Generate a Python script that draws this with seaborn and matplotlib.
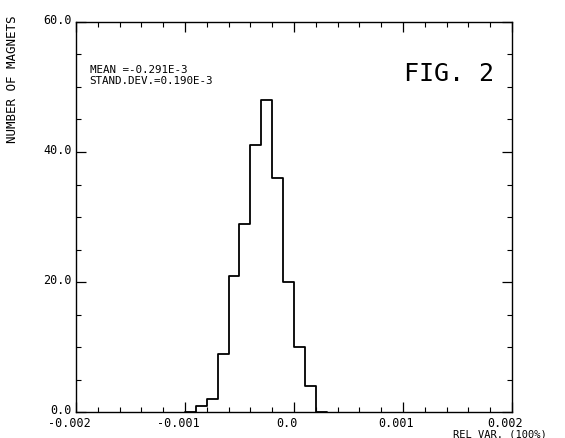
import numpy as np
import pandas as pd
import matplotlib
matplotlib.use("Agg")
import matplotlib.pyplot as plt
import matplotlib.transforms as mtransforms
import seaborn as sns

# Data (empty end bins close the outline down to zero)
bin_edges = [-0.0010, -0.0009, -0.0008, -0.0007, -0.0006, -0.0005, -0.0004, -0.0003,
             -0.0002, -0.0001, 0.0, 0.0001, 0.0002, 0.0003]
counts = [0, 1, 2, 9, 21, 29, 41, 48, 36, 20, 10, 4, 0]
x_major = [-0.002, -0.001, 0.0, 0.001, 0.002]
x_labels = ["-0.002", "-0.001", "0.0", "0.001", "0.002"]
y_major = [0, 20, 40, 60]
y_labels = ["0.0", "20.0", "40.0", "60.0"]

centers = [(a + b) / 2 for a, b in zip(bin_edges[:-1], bin_edges[1:])]
df = pd.DataFrame({"relvar": centers, "n": counts})

sns.set_theme(style="white")
plt.rcParams["font.family"] = ["DejaVu Sans Mono", "DejaVu Sans"]

fig = plt.figure(figsize=(5.65, 4.39), dpi=100)
ax = fig.add_axes([0.1345, 0.0585, 0.906 - 0.1345, 0.948 - 0.0585])

sns.histplot(data=df, x="relvar", weights="n", bins=bin_edges,
             element="step", fill=False, color="black", linewidth=1.3, ax=ax)

ax.set_xlim(-0.002, 0.002)
ax.set_ylim(0, 60)
ax.set_xticks(x_major)
ax.set_xticklabels(x_labels)
ax.set_xticks(np.arange(-0.002, 0.00201, 0.0002), minor=True)
ax.set_yticks(y_major)
ax.set_yticklabels(y_labels)
ax.set_yticks(np.arange(0, 61, 5), minor=True)

ax.tick_params(axis="both", which="both", direction="in", top=True, right=True,
               bottom=True, left=True, colors="black", labelsize=8.5)
ax.tick_params(which="major", length=7, width=0.9, pad=3)
ax.tick_params(which="minor", length=3.5, width=0.8)
ax.tick_params(axis="x", which="major", pad=2.5)
for lab in ax.get_xticklabels():
    lab.set_transform(lab.get_transform() +
                      mtransforms.ScaledTranslation(-7 / 100, 0, fig.dpi_scale_trans))
for lab in ax.get_yticklabels():
    lab.set_transform(lab.get_transform() +
                      mtransforms.ScaledTranslation(0, 4 / 100, fig.dpi_scale_trans))

for s in ax.spines.values():
    s.set_color("black")
    s.set_linewidth(1.0)

ax.set_xlabel("")
ax.set_ylabel("")

fig.text(13 / 565, 1 - 79 / 439, "NUMBER OF MAGNETS", rotation=90,
         ha="center", va="center", fontsize=9, color="black")
fig.text(500 / 565, 1 - 434.5 / 439, "REL VAR. (100%)", ha="center", va="center",
         fontsize=7.5, color="black")

ax.text(0.031, 0.865, "MEAN =-0.291E-3\nSTAND.DEV.=0.190E-3", transform=ax.transAxes,
        ha="left", va="center", fontsize=7.8, linespacing=1.1, color="black")
ax.text(0.855, 0.87, "FIG. 2", transform=ax.transAxes, ha="center", va="center",
        fontsize=18, color="black", fontweight="light")

fig.savefig("out.png", dpi=100)
